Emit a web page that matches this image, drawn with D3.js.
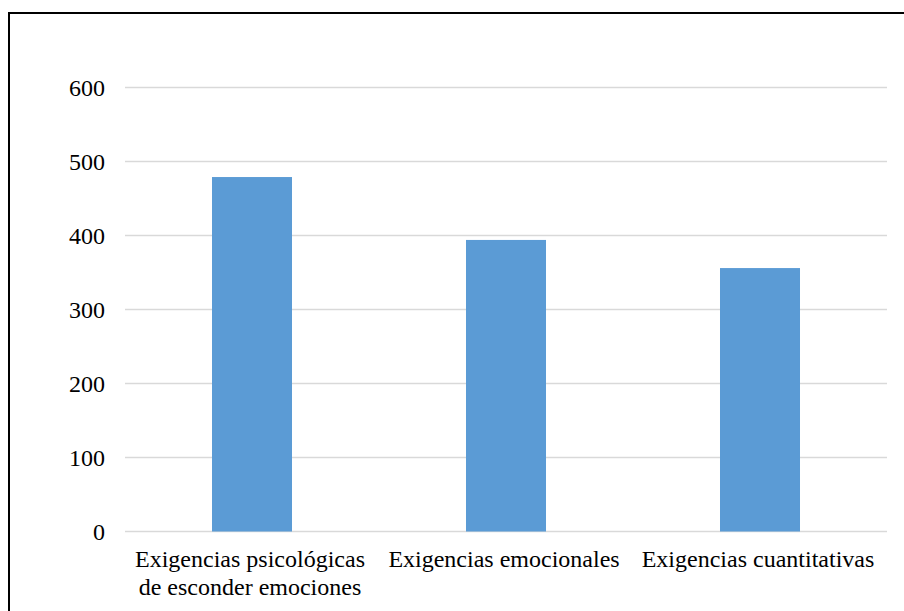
<!DOCTYPE html>
<html>
<head>
<meta charset="utf-8">
<script src="https://cdn.jsdelivr.net/npm/d3@7"></script>
<style>
  html, body { margin: 0; padding: 0; background: #fff; }
  svg { display: block; }
</style>
</head>
<body>
<script>
// Categories and their values
const categories = [
  ["Exigencias psicológicas", "de esconder emociones"],
  ["Exigencias emocionales"],
  ["Exigencias cuantitativas"]
];
const values = [479, 394, 356];
const yTicks = [0, 100, 200, 300, 400, 500, 600];

const width = 904, height = 611;
const margin = { left: 125, right: 17, top: 87.5, bottom: 79.5 };
const plotW = width - margin.left - margin.right;
const plotH = height - margin.top - margin.bottom;
const fontFamily = "'Liberation Serif', 'Times New Roman', serif";
const fontSize = "24px";

const svg = d3.select("body").append("svg")
  .attr("width", width).attr("height", height);

// Outer frame (extends past the visible area on right and bottom)
svg.append("rect")
  .attr("x", 9).attr("y", 13)
  .attr("width", width + 20).attr("height", height + 20)
  .attr("fill", "none").attr("stroke", "#000").attr("stroke-width", 2);

const g = svg.append("g").attr("transform", `translate(${margin.left},${margin.top})`);

const x = d3.scaleBand()
  .domain(d3.range(categories.length))
  .range([0, plotW])
  .paddingInner(0.685)
  .paddingOuter(0.3425);

const y = d3.scaleLinear().domain([0, 600]).range([plotH, 0]);

// Gridlines
g.append("g")
  .selectAll("line")
  .data(yTicks)
  .join("line")
  .attr("x1", 0).attr("x2", plotW)
  .attr("y1", d => y(d)).attr("y2", d => y(d))
  .attr("stroke", "#d9d9d9").attr("stroke-width", 1.5);

// Y axis labels
const yAxis = d3.axisLeft(y).tickValues(yTicks).tickSize(0).tickPadding(20);
const ya = g.append("g").call(yAxis);
ya.select(".domain").remove();
ya.selectAll("text")
  .attr("font-family", fontFamily)
  .attr("font-size", fontSize)
  .attr("fill", "#000");

// Bars
g.append("g")
  .selectAll("rect")
  .data(values)
  .join("rect")
  .attr("x", (d, i) => x(i))
  .attr("width", x.bandwidth())
  .attr("y", d => y(d))
  .attr("height", d => y(0) - y(d))
  .attr("fill", "#5b9bd5");

// Category labels
const labels = g.append("g")
  .selectAll("text")
  .data(categories)
  .join("text")
  .attr("x", (d, i) => x(i) + x.bandwidth() / 2 - 2)
  .attr("y", plotH + 35)
  .attr("text-anchor", "middle")
  .attr("font-family", fontFamily)
  .attr("font-size", fontSize)
  .attr("fill", "#000");

labels.selectAll("tspan")
  .data(d => d)
  .join("tspan")
  .attr("x", function () { return d3.select(this.parentNode).attr("x"); })
  .attr("dy", (d, i) => i === 0 ? 0 : 28)
  .text(d => d);
</script>
</body>
</html>
